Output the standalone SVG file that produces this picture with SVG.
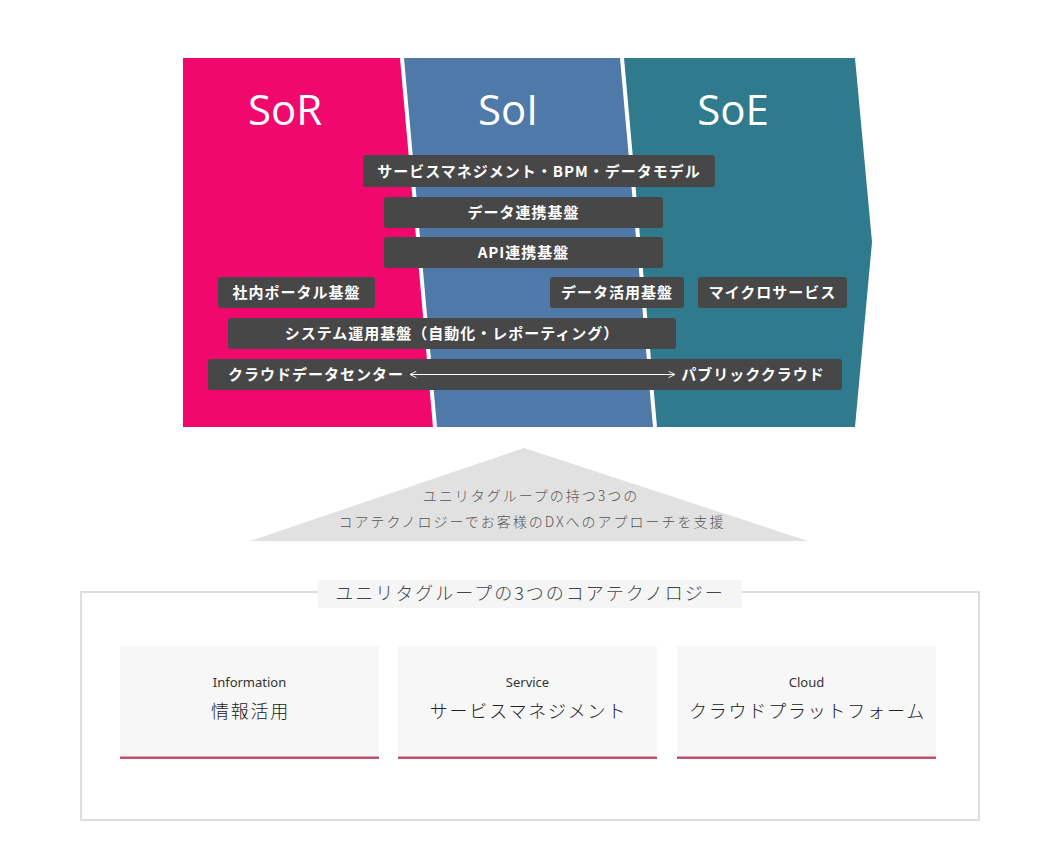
<svg xmlns="http://www.w3.org/2000/svg" width="1058" height="868" viewBox="0 0 1058 868">
<style>
.lbl{font-family:"Open Sans","Noto Sans",sans-serif;font-size:42px;fill:#fff;text-anchor:middle}
.box{fill:#474747}
.bt{font-family:"Noto Sans CJK JP",sans-serif;font-weight:700;font-size:15px;fill:#fff;text-anchor:middle;letter-spacing:1px}
.tri{font-family:"Noto Sans CJK JP",sans-serif;font-weight:300;font-size:14px;fill:#555;text-anchor:middle;letter-spacing:2px}
.card{fill:#f7f7f7}
.en{font-family:"Noto Sans","Noto Sans CJK JP",sans-serif;font-size:13px;fill:#333;text-anchor:middle}
.jp{font-family:"Noto Sans CJK JP",sans-serif;font-weight:300;font-size:18px;fill:#222;text-anchor:middle;letter-spacing:1.8px}
</style>
<defs>
<marker id="ah" viewBox="0 0 10 10" refX="9" refY="5" markerWidth="8" markerHeight="8" markerUnits="userSpaceOnUse" orient="auto-start-reverse">
<path d="M1,1 L9,5 L1,9" fill="none" stroke="#fff" stroke-width="1.2"/>
</marker>
</defs>
<rect width="1058" height="868" fill="#fff"/>
<g id="bands">
<polygon points="183,58 402,58 435,427 183,427" fill="#f0086c"/>
<polygon points="402,58 622,58 655,427 435,427" fill="#4f79a9"/>
<polygon points="622,58 855,58 872,242 855,427 655,427" fill="#2f7a8c"/>
<line x1="402" y1="58" x2="435" y2="427" stroke="#fff" stroke-width="4"/>
<line x1="622" y1="58" x2="655" y2="427" stroke="#fff" stroke-width="4"/>
<text class="lbl" x="285" y="125">SoR</text>
<text class="lbl" x="508" y="125">SoI</text>
<text class="lbl" x="733" y="125">SoE</text>
</g>
<g id="n1"><rect class="box" x="363" y="155" width="352" height="32" rx="3"/><text class="bt" x="539" y="176.5">サービスマネジメント・BPM・データモデル</text></g>
<g id="n2"><rect class="box" x="384" y="197" width="279" height="31" rx="3"/><text class="bt" x="523.5" y="218">データ連携基盤</text></g>
<g id="n3"><rect class="box" x="384" y="237" width="279" height="31" rx="3"/><text class="bt" x="523.5" y="258">API連携基盤</text></g>
<g id="n4"><rect class="box" x="218" y="277" width="157" height="31" rx="3"/><text class="bt" x="296.5" y="298">社内ポータル基盤</text></g>
<g id="n5"><rect class="box" x="550" y="277" width="134" height="31" rx="3"/><text class="bt" x="617" y="298">データ活用基盤</text></g>
<g id="n6"><rect class="box" x="698" y="277" width="149" height="31" rx="3"/><text class="bt" x="772.5" y="298">マイクロサービス</text></g>
<g id="n7"><rect class="box" x="228" y="318" width="448" height="31" rx="3"/><text class="bt" x="452" y="339">システム運用基盤（自動化・レポーティング）</text></g>
<g id="n8"><rect class="box" x="208" y="359" width="634" height="31" rx="3"/>
<text class="bt" x="316" y="380">クラウドデータセンター</text>
<text class="bt" x="753" y="380">パブリッククラウド</text></g>
<g id="connectors">
<line x1="410" y1="374.5" x2="675" y2="374.5" stroke="#fff" stroke-width="1" marker-start="url(#ah)" marker-end="url(#ah)"/>
</g>
<g id="triangle">
<polygon points="524,448 808,541 250,541" fill="#e1e1e1"/>
<text class="tri" x="531" y="501">ユニリタグループの持つ3つの</text>
<text class="tri" x="532" y="527">コアテクノロジーでお客様のDXへのアプローチを支援</text>
</g>
<g id="core">
<rect x="81" y="592" width="898" height="228" fill="none" stroke="#dedede" stroke-width="2"/>
<rect x="318" y="580" width="424" height="28" fill="#f5f5f5"/>
<text x="530" y="600" font-family="Noto Sans CJK JP, sans-serif" font-weight="300" font-size="18" fill="#444" text-anchor="middle" letter-spacing="2">ユニリタグループの3つのコアテクノロジー</text>
</g>
<g id="card1"><rect class="card" x="120" y="646" width="259" height="112"/><rect x="120" y="756.5" width="259" height="2.5" fill="#c0506a"/>
<text class="en" x="249.5" y="687">Information</text><text class="jp" x="250.5" y="718">情報活用</text></g>
<g id="card2"><rect class="card" x="398" y="646" width="259" height="112"/><rect x="398" y="756.5" width="259" height="2.5" fill="#c0506a"/>
<text class="en" x="527.5" y="687">Service</text><text class="jp" x="528.5" y="718">サービスマネジメント</text></g>
<g id="card3"><rect class="card" x="677" y="646" width="259" height="112"/><rect x="677" y="756.5" width="259" height="2.5" fill="#c0506a"/>
<text class="en" x="806.5" y="687">Cloud</text><text class="jp" x="807.5" y="718">クラウドプラットフォーム</text></g>
</svg>
